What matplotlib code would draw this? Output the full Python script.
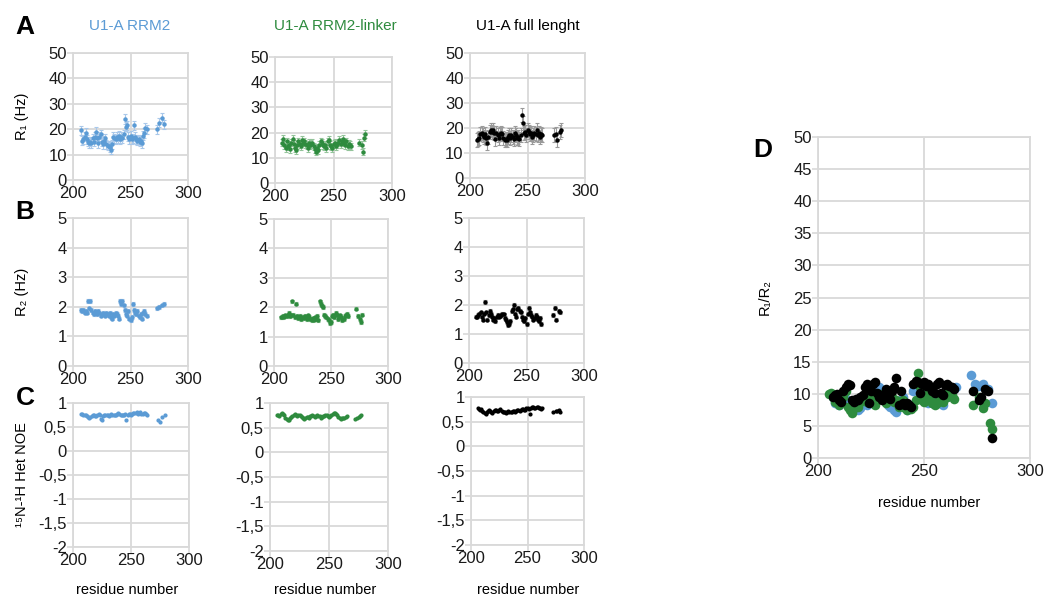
import matplotlib
matplotlib.use('Agg')
from matplotlib import pyplot as plt
from matplotlib.ticker import FuncFormatter

plt.rcParams['font.family'] = ['Liberation Sans', 'DejaVu Sans']
plt.rcParams['axes.unicode_minus'] = False

# ---- data ----
rrm2_res = list(range(207, 265)) + [273, 275, 277, 279]
rrm2_r1 = [19.5, 15.5, 16.0, 17.0, 18.5, 16.0, 15.0, 14.5, 15.0, 14.5,
           16.5, 15.0, 17.0, 19.0, 16.5, 14.5, 17.0, 18.0, 15.0, 14.0,
           15.5, 16.5, 14.0, 13.5, 13.5, 13.0, 12.0, 14.0, 17.0, 16.5,
           16.0, 17.0, 16.5, 17.5, 16.0, 17.0, 16.5, 18.0, 24.0, 21.0,
           21.5, 17.0, 16.0, 17.5, 16.0, 16.5, 21.5, 17.0, 16.0, 15.5,
           16.0, 15.0, 15.5, 14.5, 17.5, 18.5, 20.5, 20.0,
           20.0, 22.5, 24.5, 22.0]
rrm2_r2 = [1.9, 1.85, 1.9, 1.8, 1.85, 1.8, 2.2, 1.95, 2.2, 1.9,
           1.8, 1.75, 1.85, 1.8, 1.75, 1.85, 1.8, 1.7, 1.75, 1.8,
           1.75, 1.7, 1.8, 1.75, 1.7, 1.8, 1.65, 1.6, 1.75, 1.7,
           1.8, 1.75, 1.7, 1.6, 2.2, 2.1, 2.2, 2.05, 1.9, 1.75,
           1.7, 1.85, 1.6, 1.55, 1.65, 2.1, 1.9, 1.8, 1.75, 1.85,
           1.7, 1.65, 1.75, 1.6, 1.8, 1.85, 1.75, 1.7,
           1.95, 2.0, 2.05, 2.1]
rrm2_noe = [0.78, 0.77, 0.76, 0.75, 0.74, 0.72, 0.70, 0.68, 0.70, 0.72,
            0.74, 0.75, 0.73, 0.72, 0.75, 0.77, 0.74, 0.66, 0.65, 0.72,
            0.74, 0.75, 0.76, 0.74, 0.73, 0.75, 0.77, 0.76, 0.74, 0.75,
            0.76, 0.78, 0.80, 0.77, 0.75, 0.76, 0.74, 0.76, 0.77, 0.65,
            0.76, 0.78, 0.77, 0.76, 0.78, 0.80, 0.79, 0.80, 0.82, 0.78,
            0.80, 0.81, 0.78, 0.77, 0.79, 0.80, 0.78, 0.76,
            0.65, 0.60, 0.70, 0.75]

linker_res = list(range(206, 266)) + [272, 274, 275, 276, 277]
linker_r1 = [16.0, 17.5, 15.0, 14.0, 16.5, 14.5, 15.0, 13.5, 16.0, 17.5,
             15.5, 14.0, 13.0, 15.0, 16.5, 15.5, 14.5, 17.0, 16.0, 16.5,
             15.5, 15.0, 14.0, 16.0, 15.0, 15.5, 16.0, 14.5, 13.5, 12.5,
             14.0, 13.0, 15.0, 16.5, 16.0, 15.0, 14.5, 15.0, 14.0, 16.5,
             17.0, 15.0, 14.5, 14.0, 15.5, 16.0, 14.5, 15.5, 16.0, 17.0,
             15.5, 16.5, 17.5, 16.0, 15.0, 16.5, 14.5, 15.5, 15.0, 14.5,
             16.0, 15.0, 12.5, 18.0, 19.5]
linker_r2 = [1.65, 1.65, 1.7, 1.68, 1.72, 1.7, 1.75, 1.8, 1.7, 1.72,
             2.2, 1.75, 1.65, 2.12, 1.7, 1.62, 1.65, 1.7, 1.6, 1.68,
             1.62, 1.7, 1.65, 1.6, 1.72, 1.68, 1.6, 1.55, 1.62, 1.58,
             1.65, 1.6, 1.7, 1.55, 2.2, 2.1, 2.05, 2.0, 1.75, 1.7,
             1.65, 1.6, 1.55, 1.45, 1.5, 1.7, 1.75, 1.65, 1.8, 1.75,
             1.6, 1.7, 1.72, 1.65, 1.55, 1.6, 1.7, 1.75, 1.78, 1.7,
             1.95, 1.7, 1.6, 1.5, 1.75]
linker_noe = [0.76, 0.75, 0.74, 0.78, 0.80, 0.77, 0.75, 0.70, 0.68, 0.66,
              0.65, 0.70, 0.72, 0.74, 0.76, 0.77, 0.75, 0.74, 0.76, 0.75,
              0.73, 0.72, 0.70, 0.68, 0.70, 0.72, 0.71, 0.70, 0.73, 0.74,
              0.75, 0.74, 0.72, 0.73, 0.75, 0.74, 0.73, 0.70, 0.72, 0.74,
              0.74, 0.76, 0.75, 0.73, 0.72, 0.74, 0.76, 0.78, 0.80, 0.79,
              0.77, 0.75, 0.72, 0.70, 0.68, 0.70, 0.69, 0.70, 0.72, 0.73,
              0.68, 0.70, 0.72, 0.74, 0.75]

full_res = list(range(206, 264)) + [273, 275, 276, 278, 279]
full_r1 = [15.0, 15.5, 16.0, 17.5, 18.0, 17.0, 16.5, 17.5, 16.0, 14.0,
           16.5, 18.5, 19.0, 18.5, 19.0, 18.0, 15.5, 18.0, 17.0, 16.0,
           17.5, 18.0, 17.5, 16.0, 15.0, 15.5, 15.0, 16.5, 17.0, 16.0,
           17.0, 16.5, 15.5, 18.0, 17.0, 16.0, 16.5, 15.5, 17.0, 25.0,
           22.0, 18.0, 18.5, 17.0, 19.0, 18.5, 17.5, 18.0, 16.5, 17.0,
           18.0, 17.5, 19.0, 17.0, 18.0, 16.5, 17.5, 17.0,
           17.0, 17.5, 15.0, 18.5, 19.0]
full_r2 = [1.6, 1.6, 1.65, 1.7, 1.75, 1.6, 1.5, 1.7, 2.1, 1.75,
           1.5, 1.65, 1.8, 1.7, 1.6, 1.5, 1.55, 1.45, 1.6, 1.65,
           1.6, 1.62, 1.65, 1.7, 1.68, 1.55, 1.5, 1.4, 1.3, 1.35,
           1.45, 1.8, 1.85, 2.0, 1.7, 1.6, 1.85, 1.9, 1.8, 1.75,
           1.6, 1.5, 1.45, 1.55, 1.35, 1.7, 1.9, 1.75, 1.65, 1.6,
           1.5, 1.55, 1.65, 1.6, 1.5, 1.45, 1.55, 1.35,
           1.65, 1.9, 1.5, 1.8, 1.75]
full_noe = [0.78, 0.76, 0.74, 0.75, 0.72, 0.70, 0.68, 0.66, 0.70, 0.72,
            0.73, 0.72, 0.70, 0.68, 0.72, 0.74, 0.73, 0.71, 0.72, 0.74,
            0.75, 0.72, 0.70, 0.69, 0.70, 0.68, 0.70, 0.72, 0.70, 0.69,
            0.70, 0.72, 0.71, 0.70, 0.72, 0.73, 0.74, 0.72, 0.74, 0.75,
            0.76, 0.74, 0.73, 0.77, 0.78, 0.76, 0.65, 0.78, 0.79, 0.80,
            0.78, 0.77, 0.79, 0.80, 0.78, 0.77, 0.76, 0.78,
            0.70, 0.72, 0.71, 0.73, 0.70]

# R1 error bar half-widths (Hz), R2 error (Hz)
r1_err = {'rrm2': 1.8, 'linker': 1.5, 'full': 2.8}
r2_err = 0.06

# panel D: R1/R2 ratio
d_rrm2_res = list(range(207, 266)) + [272, 274, 276, 278, 280, 282]
d_rrm2 = [9.5, 8.5, 8.8, 8.2, 9.0, 10.0, 9.2, 8.5, 8.0, 7.8,
          8.0, 8.5, 7.5, 7.8, 8.6, 9.0, 8.2, 9.5, 10.5, 10.8,
          10.2, 9.0, 11.0, 10.5, 9.5, 8.8, 8.2, 8.0, 8.5, 7.5,
          7.2, 8.0, 8.8, 9.5, 8.0, 7.5, 7.8, 8.2, 10.5, 11.0,
          10.8, 10.0, 9.5, 11.0, 10.5, 8.5, 9.0, 8.5, 8.8, 9.2,
          8.5, 9.0, 8.3, 10.0, 9.5, 9.8, 10.5, 10.8, 11.0,
          13.0, 11.5, 11.2, 11.5, 10.8, 8.5]
d_linker_res = list(range(205, 265)) + [273, 276, 278, 279, 281, 282]
d_linker = [10.0, 10.2, 9.5, 8.8, 9.0, 8.2, 8.5, 9.5, 10.5, 8.0,
            7.5, 7.0, 7.8, 8.5, 8.0, 8.8, 9.5, 10.0, 8.8, 9.2,
            9.8, 8.5, 8.2, 9.0, 10.0, 9.5, 9.0, 8.5, 9.2, 10.0,
            9.5, 8.8, 9.0, 8.0, 8.5, 9.0, 7.8, 7.5, 7.8, 7.6,
            8.0, 9.0, 13.2, 11.0, 9.0, 8.8, 9.5, 10.2, 9.0, 8.5,
            8.2, 8.6, 9.0, 9.5, 8.8, 10.0, 9.5, 10.5, 9.8, 9.2,
            8.3, 9.5, 7.8, 8.5, 5.5, 4.5]
d_full_res = list(range(207, 265)) + [273, 276, 277, 279, 280, 282]
d_full = [9.5, 9.8, 10.0, 9.0, 8.8, 10.5, 11.0, 11.5, 11.3, 9.0,
          8.8, 9.2, 9.0, 9.5, 9.8, 11.0, 11.5, 8.5, 10.5, 11.5,
          11.8, 10.2, 9.5, 9.0, 10.0, 10.8, 9.8, 9.2, 10.5, 11.0,
          12.4, 8.2, 10.5, 8.5, 8.3, 8.5, 8.2, 8.0, 11.5, 12.0,
          11.8, 10.2, 11.5, 11.8, 11.2, 11.5, 11.0, 10.5, 10.2, 11.5,
          11.8, 10.2, 9.8, 11.3, 11.5, 11.2, 11.0, 10.8,
          10.5, 9.0, 9.5, 10.8, 10.5, 3.1]

titles = ['U1-A RRM2', 'U1-A RRM2-linker', 'U1-A full lenght']
colors = ['#5B9BD5', '#2E8B3E', '#000000']
err_colors = ['#A9C8EA', '#93C49A', '#9A9A9A']

W, H = 1046, 599
GRID = '#D9D9D9'


def box(x0, y0, x1, y1):
    return [x0 / W, 1 - y1 / H, (x1 - x0) / W, (y1 - y0) / H]


def comma(v, pos):
    return ('%g' % v).replace('.', ',')


def style(ax, yticks, ylim):
    ax.set_xlim(200, 300)
    ax.set_xticks([200, 250, 300])
    ax.set_ylim(*ylim)
    ax.set_yticks(yticks)
    ax.yaxis.set_major_formatter(FuncFormatter(comma))
    ax.grid(True, color=GRID, lw=1.3)
    ax.set_axisbelow(True)
    for s in ax.spines.values():
        s.set_color(GRID)
        s.set_linewidth(1.3)
    ax.tick_params(labelsize=12, length=4, color=GRID, width=1.2, pad=0.5,
                   labelcolor='#1a1a1a')


def ftext(x, y, s, **kw):
    fig.text(x / W, 1 - y / H, s, ha='center', va='center', **kw)


fig = plt.figure(figsize=(W / 100, H / 100), dpi=100)

boxes = {
    'A': [box(73, 53, 188, 180), box(275, 57, 392, 183), box(470, 53, 585, 178)],
    'B': [box(73, 218, 188, 366), box(274, 219, 388, 366), box(469, 218, 584, 363)],
    'C': [box(73, 403, 189, 547), box(270, 403, 388, 551), box(471, 397, 584, 545)],
}
title_x = [130, 335, 528]
xlabel_x = [127, 325, 528]

series = [
    (rrm2_res, rrm2_r1, rrm2_r2, rrm2_noe, r1_err['rrm2']),
    (linker_res, linker_r1, linker_r2, linker_noe, r1_err['linker']),
    (full_res, full_r1, full_r2, full_noe, r1_err['full']),
]

for i, (res, r1, r2, noe, e1) in enumerate(series):
    c, ec = colors[i], err_colors[i]

    ax = fig.add_axes(boxes['A'][i])
    ax.errorbar(res, r1, yerr=e1, fmt='o', ms=2.2, color=c, ecolor=ec,
                elinewidth=0.8, capsize=1.5, capthick=0.8)
    style(ax, range(0, 51, 10), (0, 50))

    ax = fig.add_axes(boxes['B'][i])
    ax.errorbar(res, r2, yerr=r2_err, fmt='o', ms=2.2, color=c, ecolor=ec,
                elinewidth=0.8, capsize=1.5, capthick=0.8)
    style(ax, range(0, 6), (0, 5))

    ax = fig.add_axes(boxes['C'][i])
    ax.plot(res, noe, 'o', ms=2.0, color=c)
    style(ax, [-2, -1.5, -1, -0.5, 0, 0.5, 1], (-2, 1))

    ftext(title_x[i], 26, titles[i], color=c, fontsize=11)
    ftext(xlabel_x[i], 590, 'residue number', fontsize=10.5)

ftext(22, 116, 'R\u2081 (Hz)', fontsize=10.5, rotation=90)
ftext(22, 292, 'R\u2082 (Hz)', fontsize=10.5, rotation=90)
ftext(22, 475, '\u00b9\u2075N-\u00b9H Het NOE', fontsize=10.5, rotation=90)

axd = fig.add_axes(box(818, 137, 1030, 458))
for res, vals, c in [(d_rrm2_res, d_rrm2, colors[0]),
                     (d_linker_res, d_linker, colors[1]),
                     (d_full_res, d_full, colors[2])]:
    axd.scatter(res, vals, s=48, color=c, linewidths=0, zorder=3)
style(axd, range(0, 51, 5), (0, 50))
ftext(765, 297, 'R\u2081/R\u2082', fontsize=10.5, rotation=90)
ftext(929, 503, 'residue number', fontsize=10.5)

for letter, (x, y) in {'A': (25, 27), 'B': (25, 212), 'C': (25, 398), 'D': (763, 150)}.items():
    ftext(x, y, letter, fontsize=19, fontweight='bold')

fig.savefig('out.png', dpi=100, facecolor='white')
